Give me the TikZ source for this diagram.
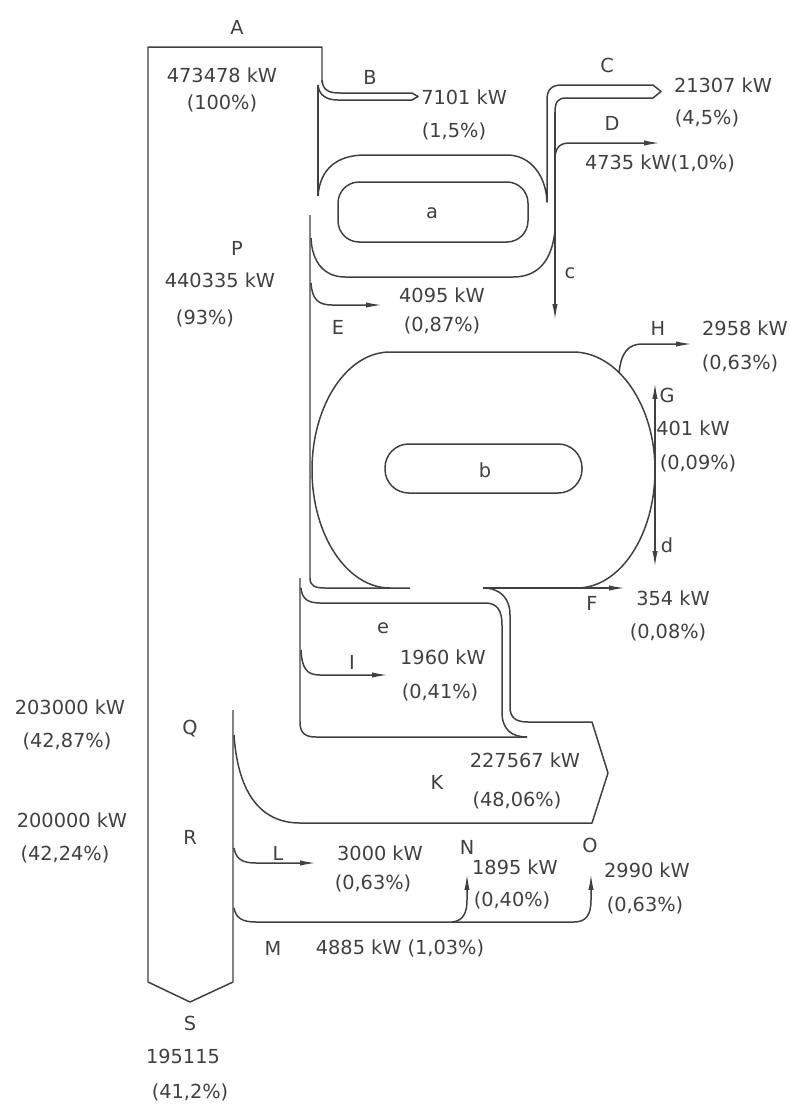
\documentclass[tikz,border=0pt]{standalone}
\usepackage{fontspec}
\setmainfont{DejaVu Sans}
\usetikzlibrary{arrows.meta}

\tikzset{
  flow/.style={draw=black!75, line width=0.85pt},
  tip/.style={-{Latex[length=9pt,width=3pt]}},
  twotip/.style={{Latex[length=9pt,width=3pt]}-{Latex[length=9pt,width=3pt]}},
  lbl/.style={text=black!75, inner sep=0pt, font=\fontsize{11}{13}\selectfont}
}

\begin{document}
\begin{tikzpicture}[x=0.02cm, y=-0.02cm, line join=round]
    \useasboundingbox (0,0) rectangle (790,1106);

    % main column A -> S
    \draw[flow] (322,83) -- (322,47) -- (148,47) -- (148,982)
        -- (190,1002) -- (233,982) -- (233,710);

    % B
    \draw[flow] (322,80) .. controls (323,90) and (328,93) .. (340,93) -- (412,93)
        -- (418,96.5) -- (412,100) -- (338,100) .. controls (326,100) and (319,95) .. (318,85);
    \draw[flow] (318,85) -- (318,196);

    % loop a with C, D, c
    \draw[flow] (318,196) .. controls (320,168) and (338,155) .. (365,155) -- (507,155)
        .. controls (530,155) and (546,175) .. (547,202) -- (547,100)
        .. controls (547,90) and (551,85) .. (562,85) -- (653,85) -- (661,91.5) -- (653,98)
        -- (566,98) .. controls (558,98) and (555,102) .. (555,112);
    \draw[flow, tip] (555,112) -- (555,320);
    \draw[flow, tip] (555,157) .. controls (556,147) and (560,143) .. (570,143) -- (660,143);
    \draw[flow] (555,230) .. controls (552,262) and (537,277) .. (513,277) -- (345,277)
        .. controls (325,277) and (312,263) .. (311,238);
    \draw[flow, rounded corners=12pt] (338,182) rectangle (528,242);

    % P edge and E
    \draw[flow] (310,215) -- (310,578) .. controls (310,586) and (315,588) .. (325,588) -- (410,588);
    \draw[flow, tip] (311,283) .. controls (312,299) and (318,305) .. (332,305) -- (382,305);

    % loop b with F, G, d, H
    \draw[flow] (390,588) .. controls (347,588) and (312,535) .. (312,470)
        .. controls (312,405) and (347,352) .. (390,352) -- (573,352)
        .. controls (618,352) and (655,405) .. (655,470)
        .. controls (655,535) and (620,588) .. (577,588);
    \draw[flow, rounded corners=13.5pt] (385,444) rectangle (582,493);
    \draw[flow, tip] (483,588) -- (625,588);
    \draw[flow, tip] (619,373) .. controls (621,353) and (628,344) .. (642,344) -- (692,344);
    \draw[flow, twotip] (655,383) -- (655,567);

    % K
    \draw[flow] (483,588) .. controls (500,588) and (510,598) .. (510,615) -- (510,707)
        .. controls (510,717) and (515,722) .. (528,722) -- (592,722) -- (608,773)
        -- (592,823) -- (300,823) .. controls (262,823) and (238,795) .. (234,735);

    % loop e with I
    \draw[flow] (300,578) -- (300,722) .. controls (300,733) and (305,737) .. (316,737) -- (527,737);
    \draw[flow] (301,588) .. controls (302,599) and (308,603) .. (320,603) -- (485,603)
        .. controls (497,603) and (502,610) .. (502,625) -- (502,712)
        .. controls (502,730) and (512,737) .. (527,737);
    \draw[flow, tip] (301,650) .. controls (302,669) and (307,675) .. (320,675) -- (388,675);

    % L, M, N, O
    \draw[flow, tip] (234,848) .. controls (236,859) and (242,863) .. (256,863) -- (316,863);
    \draw[flow, tip] (234,908) .. controls (236,918) and (242,922) .. (256,922) -- (574,922)
        .. controls (586,922) and (591,915) .. (591,900) -- (591,874);
    \draw[flow, tip] (452,922) .. controls (463,921) and (467,913) .. (467,900) -- (467,874);

    % labels
    \node[lbl] (lA) at (237,27) {A};
    \node[lbl] (vA) at (222,75) {473478 kW};
    \node[lbl] (pA) at (222,103) {(100\%)};
    \node[lbl] (lB) at (370,77) {B};
    \node[lbl, anchor=west] (vB) at (421,97) {7101 kW};
    \node[lbl] (pB) at (454,131) {(1,5\%)};
    \node[lbl] (lC) at (607,65) {C};
    \node[lbl] (vC) at (723,85) {21307 kW};
    \node[lbl] (pC) at (707,118) {(4,5\%)};
    \node[lbl] (lD) at (612,123) {D};
    \node[lbl] (vD) at (660,163) {4735 kW(1,0\%)};
    \node[lbl] (la) at (432,213) {a};
    \node[lbl] (lc) at (570,273) {c};
    \node[lbl] (lP) at (237,248) {P};
    \node[lbl] (vP) at (220,280) {440335 kW};
    \node[lbl] (pP) at (205,318) {(93\%)};
    \node[lbl] (lE) at (338,327) {E};
    \node[lbl] (vE) at (442,295) {4095 kW};
    \node[lbl] (pE) at (442,325) {(0,87\%)};
    \node[lbl] (lH) at (658,328) {H};
    \node[lbl] (vH) at (745,328) {2958 kW};
    \node[lbl] (pH) at (740,363) {(0,63\%)};
    \node[lbl] (lG) at (667,395) {G};
    \node[lbl] (vG) at (693,428) {401 kW};
    \node[lbl] (pG) at (698,463) {(0,09\%)};
    \node[lbl] (lb) at (485,470) {b};
    \node[lbl] (ld) at (667,545) {d};
    \node[lbl] (lF) at (592,603) {F};
    \node[lbl] (vF) at (673,598) {354 kW};
    \node[lbl] (pF) at (668,632) {(0,08\%)};
    \node[lbl] (le) at (383,628) {e};
    \node[lbl] (lI) at (352,662) {I};
    \node[lbl] (vI) at (443,657) {1960 kW};
    \node[lbl] (pI) at (440,692) {(0,41\%)};
    \node[lbl] (vQ) at (70,707) {203000 kW};
    \node[lbl] (pQ) at (67,741) {(42,87\%)};
    \node[lbl] (lQ) at (190,729) {Q};
    \node[lbl] (vK) at (525,760) {227567 kW};
    \node[lbl] (pK) at (517,800) {(48,06\%)};
    \node[lbl] (lK) at (437,782) {K};
    \node[lbl] (vR) at (72,820) {200000 kW};
    \node[lbl] (pR) at (65,854) {(42,24\%)};
    \node[lbl] (lR) at (190,837) {R};
    \node[lbl] (lL) at (278,853) {L};
    \node[lbl] (vL) at (380,853) {3000 kW};
    \node[lbl] (pL) at (373,883) {(0,63\%)};
    \node[lbl] (lN) at (467,847) {N};
    \node[lbl] (vN) at (515,867) {1895 kW};
    \node[lbl] (pN) at (512,900) {(0,40\%)};
    \node[lbl] (lO) at (590,845) {O};
    \node[lbl] (vO) at (647,870) {2990 kW};
    \node[lbl] (pO) at (645,905) {(0,63\%)};
    \node[lbl] (lM) at (273,948) {M};
    \node[lbl] (vM) at (400,948) {4885 kW (1,03\%)};
    \node[lbl] (lS) at (190,1023) {S};
    \node[lbl] (vS) at (183,1056) {195115};
    \node[lbl] (pS) at (190,1092) {(41,2\%)};
\end{tikzpicture}
\end{document}
